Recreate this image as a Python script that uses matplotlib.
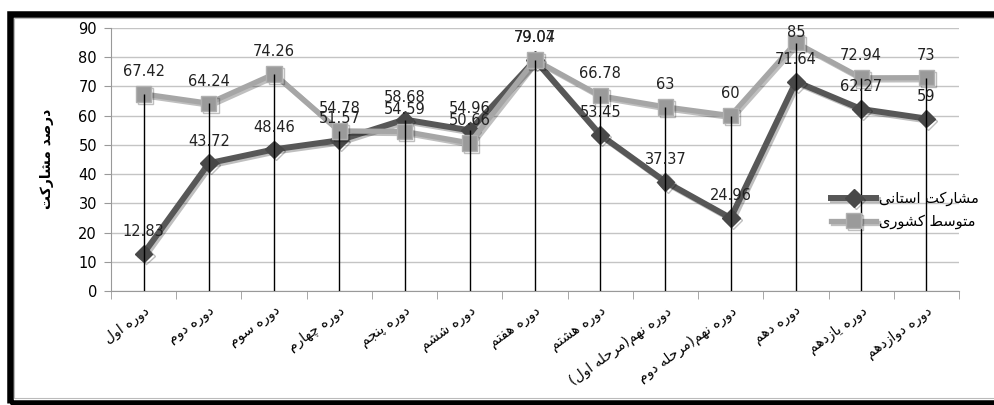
import numpy as np
import matplotlib
matplotlib.use('Agg')
import matplotlib.pyplot as plt
import matplotlib.patheffects as pe
from matplotlib.patches import Rectangle

# data
periods = ['دوره اول', 'دوره دوم', 'دوره سوم', 'دوره چهارم', 'دوره پنجم', 'دوره ششم',
           'دوره هفتم', 'دوره هشتم', 'دوره نهم(مرحله اول)', 'دوره نهم(مرحله دوم',
           'دوره دهم', 'دوره یازدهم', 'دوره دوازدهم']
provincial = [12.83, 43.72, 48.46, 51.57, 58.68, 54.96, 79.04, 53.45, 37.37, 24.96, 71.64, 62.27, 59]
national = [67.42, 64.24, 74.26, 54.78, 54.59, 50.66, 79.07, 66.78, 63, 60, 85, 72.94, 73]
y_ticks = [0, 10, 20, 30, 40, 50, 60, 70, 80, 90]
y_title = 'درصد مشارکت'
name_prov = 'مشارکت استانی'
name_nat = 'متوسط کشوری'

# minimal arabic shaping (isolated, final, initial, medial)
FORMS = {
    'ا': (0xFE8D, 0xFE8E, None, None),
    'د': (0xFEA9, 0xFEAA, None, None),
    'ر': (0xFEAD, 0xFEAE, None, None),
    'ز': (0xFEAF, 0xFEB0, None, None),
    'و': (0xFEED, 0xFEEE, None, None),
    'ب': (0xFE8F, 0xFE90, 0xFE91, 0xFE92),
    'ت': (0xFE95, 0xFE96, 0xFE97, 0xFE98),
    'ج': (0xFE9D, 0xFE9E, 0xFE9F, 0xFEA0),
    'ح': (0xFEA1, 0xFEA2, 0xFEA3, 0xFEA4),
    'س': (0xFEB1, 0xFEB2, 0xFEB3, 0xFEB4),
    'ش': (0xFEB5, 0xFEB6, 0xFEB7, 0xFEB8),
    'ص': (0xFEB9, 0xFEBA, 0xFEBB, 0xFEBC),
    'ط': (0xFEC1, 0xFEC2, 0xFEC3, 0xFEC4),
    'ف': (0xFED1, 0xFED2, 0xFED3, 0xFED4),
    'ل': (0xFEDD, 0xFEDE, 0xFEDF, 0xFEE0),
    'م': (0xFEE1, 0xFEE2, 0xFEE3, 0xFEE4),
    'ن': (0xFEE5, 0xFEE6, 0xFEE7, 0xFEE8),
    'ه': (0xFEE9, 0xFEEA, 0xFEEB, 0xFEEC),
    'پ': (0xFB56, 0xFB57, 0xFB58, 0xFB59),
    'چ': (0xFB7A, 0xFB7B, 0xFB7C, 0xFB7D),
    'ک': (0xFB8E, 0xFB8F, 0xFB90, 0xFB91),
    'ی': (0xFBFC, 0xFBFD, 0xFBFE, 0xFBFF),
}


def fa(text):
    out = []
    for i, ch in enumerate(text):
        if ch not in FORMS:
            out.append(ch)
            continue
        f = FORMS[ch]
        prev = text[i - 1] if i > 0 else ''
        nxt = text[i + 1] if i < len(text) - 1 else ''
        jp = prev in FORMS and FORMS[prev][2] is not None
        jn = f[2] is not None and nxt in FORMS
        if jp and jn:
            out.append(chr(f[3]))
        elif jp:
            out.append(chr(f[1]))
        elif jn:
            out.append(chr(f[2]))
        else:
            out.append(chr(f[0]))
    mirror = {'(': ')', ')': '('}
    return ''.join(mirror.get(c, c) for c in reversed(out))


plt.rcParams['font.family'] = ['DejaVu Sans']

fig = plt.figure(figsize=(9.95, 4.05), dpi=100)
ax = fig.add_axes([111 / 995, 1 - 291 / 405, 848 / 995, 263 / 405])

x = np.arange(len(periods))
dark = '#575757'
light = '#a6a6a6'
shadow = [pe.SimpleLineShadow(offset=(1.5, -1.5), alpha=0.25), pe.Normal()]

ax.plot(x, provincial, color=dark, lw=4.3, marker='D', ms=9, mfc='#484848', mec='#484848',
        label=fa(name_prov), zorder=3, path_effects=shadow)
ax.plot(x, national, color=light, lw=3.8, marker='s', ms=11, mfc='#9a9a9a', mec='#b0b0b0',
        label=fa(name_nat), zorder=4, path_effects=shadow)

# drop lines
ax.vlines(x, 0, np.maximum(provincial, national), color='black', lw=1, zorder=5)


def label_points(vals):
    for xi, v in zip(x, vals):
        # labels near the top are pushed down to stay inside the plot
        off = 7 if v > 82 else 16
        ax.annotate(f'{v:g}', (xi, v), xytext=(0, off), textcoords='offset points',
                    ha='center', va='center', fontsize=10.5, color='#222222', zorder=6)


label_points(provincial)
label_points(national)

ax.set_xlim(-0.5, len(periods) - 0.5)
ax.set_ylim(0, 90)
ax.set_yticks(y_ticks)
ax.tick_params(axis='y', length=5, color='#999999', labelsize=10.5, pad=5)
ax.set_xticks(x)
ax.set_xticklabels([fa(p) for p in periods], rotation=36, ha='right', va='top',
                   rotation_mode='anchor', fontsize=10)
ax.set_xticks(np.arange(-0.5, len(periods)), minor=True)
ax.tick_params(axis='x', which='major', length=0, pad=9)
ax.tick_params(axis='x', which='minor', length=6, color='#999999')
ax.grid(axis='y', color='#c4c4c4', lw=1)
ax.set_axisbelow(True)
for s in ['top', 'right']:
    ax.spines[s].set_visible(False)
for s in ['left', 'bottom']:
    ax.spines[s].set_color('#999999')

fig.text(47 / 995, 1 - 159 / 405, fa(y_title), rotation=90, ha='center', va='center',
         fontsize=10, fontweight='bold')

ax.legend(loc='center left', bbox_to_anchor=(818 / 995, 1 - 210 / 405),
          bbox_transform=fig.transFigure, frameon=False, fontsize=10.5,
          handlelength=3.1, handletextpad=0.2, labelspacing=0.5)

# outer frame
fig.patches.append(Rectangle((10 / 995, 2 / 405), 1.2, 389.5 / 405, transform=fig.transFigure,
                             fill=False, ec='black', lw=4.7))
fig.patches.append(Rectangle((14 / 995, 7 / 405), 1.2, 380 / 405, transform=fig.transFigure,
                             fill=False, ec='#bbbbbb', lw=0.8))

fig.savefig('out.png', dpi=100)
